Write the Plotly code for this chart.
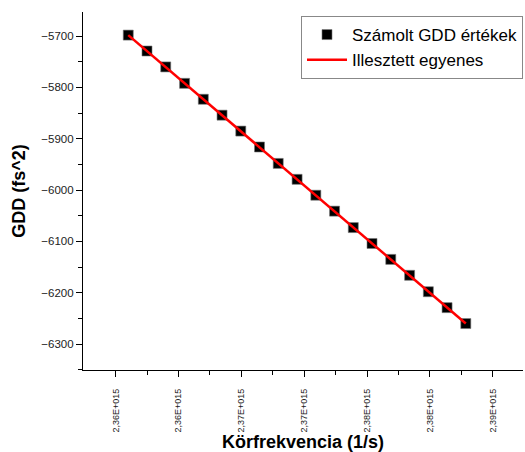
import plotly.graph_objects as go

# Data
freq = [2.36100e15, 2.36249e15, 2.36398e15, 2.36548e15, 2.36697e15, 2.36846e15,
        2.36995e15, 2.37144e15, 2.37293e15, 2.37443e15, 2.37592e15, 2.37741e15,
        2.37890e15, 2.38039e15, 2.38188e15, 2.38338e15, 2.38487e15, 2.38636e15,
        2.38785e15]
gdd = [-5698, -5729, -5760, -5792, -5823, -5854, -5885, -5916, -5948, -5979,
       -6010, -6041, -6073, -6104, -6135, -6166, -6198, -6229, -6260]
fit_x = [2.36100e15, 2.38785e15]
fit_y = [-5698, -6260]

x_tickvals = [2.360e15, 2.365e15, 2.370e15, 2.375e15, 2.380e15, 2.385e15, 2.390e15]
x_ticktext = ["2,36E+015", "2,36E+015", "2,37E+015", "2,37E+015",
              "2,38E+015", "2,38E+015", "2,39E+015"]
y_tickvals = [-5700, -5800, -5900, -6000, -6100, -6200, -6300]

FONT = "Arial, Liberation Sans, sans-serif"

fig = go.Figure()
fig.add_trace(go.Scatter(
    x=freq, y=gdd, mode="markers", name="Számolt GDD értékek",
    marker=dict(symbol="square", size=10, color="black",
                line=dict(color="#777777", width=0.6)),
))
fig.add_trace(go.Scatter(
    x=fit_x, y=fit_y, mode="lines", name="Illesztett egyenes",
    line=dict(color="#ff0000", width=2.5),
))

fig.update_layout(
    width=525, height=452,
    margin=dict(l=83, r=2, t=12, b=82),
    paper_bgcolor="white", plot_bgcolor="white",
    font=dict(family=FONT, color="black"),
    legend=dict(
        x=1, xanchor="right", y=1 - 4 / 358, yanchor="top",
        bgcolor="white", bordercolor="#888888", borderwidth=1,
        font=dict(size=17, family=FONT, color="black"),
        tracegroupgap=0, itemwidth=40,
    ),
    xaxis=dict(
        range=[2.3574e15, 2.3924e15],
        tickmode="array", tickvals=x_tickvals, ticktext=x_ticktext,
        tickangle=-90, tickfont=dict(size=9, family=FONT, color="#222222"),
        ticks="outside", ticklen=6, tickwidth=1, tickcolor="black",
        minor=dict(ticks="outside", ticklen=4, tickwidth=1, tickcolor="black",
                   tickvals=[2.3625e15, 2.3675e15, 2.3725e15, 2.3775e15,
                             2.3825e15, 2.3875e15]),
        showline=True, linecolor="black", linewidth=1.2,
        showgrid=False, zeroline=False,
        ticklabelstandoff=8,
        title=dict(text="<b>Körfrekvencia (1/s)</b>",
                   font=dict(size=18, family=FONT, color="black"), standoff=3),
    ),
    yaxis=dict(
        range=[-6350.5, -5653],
        tickmode="array", tickvals=y_tickvals,
        tickfont=dict(size=11.5, family=FONT, color="#222222"),
        ticks="outside", ticklen=6, tickwidth=1, tickcolor="black",
        minor=dict(ticks="outside", ticklen=4, tickwidth=1, tickcolor="black",
                   tickvals=[-5650, -5750, -5850, -5950, -6050, -6150, -6250, -6350]),
        showline=True, linecolor="black", linewidth=1.2,
        showgrid=False, zeroline=False,
        title=dict(text="<b>GDD (fs^2)</b>",
                   font=dict(size=18, family=FONT, color="black"), standoff=10),
    ),
)

fig.write_html("out.html")
